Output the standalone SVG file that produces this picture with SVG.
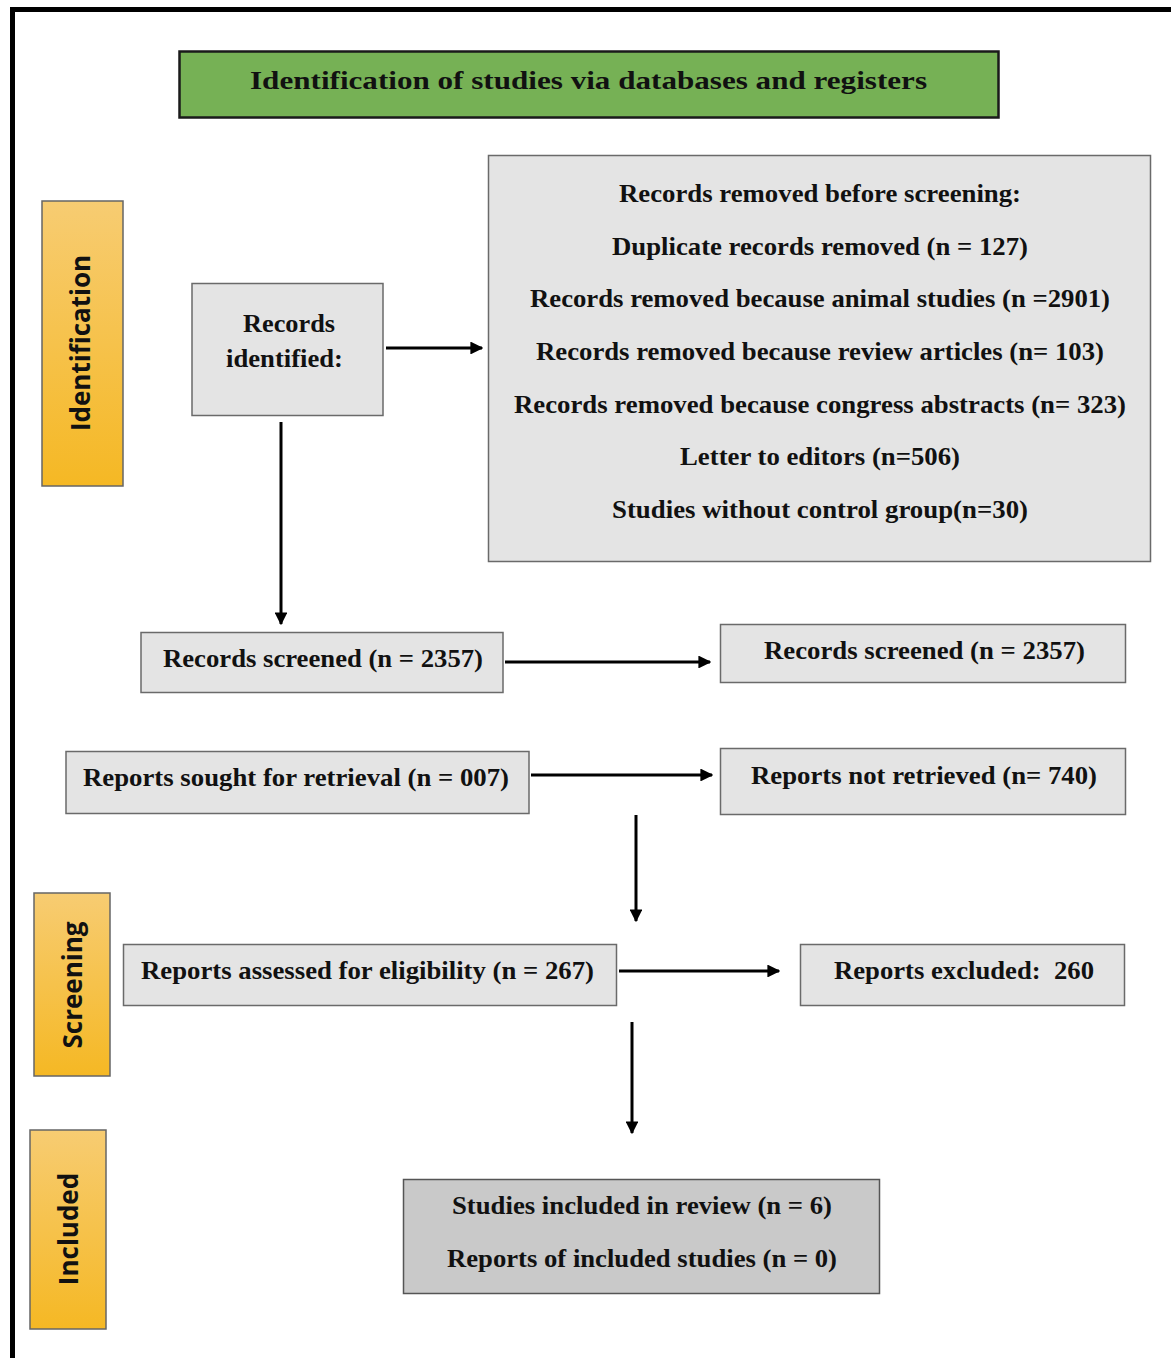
<svg xmlns="http://www.w3.org/2000/svg" width="1171" height="1358" viewBox="0 0 1171 1358">
<style>
.box{fill:#e4e4e4;stroke:#6a6a6a;stroke-width:1.5}
.dark{fill:#c9c9c9;stroke:#555;stroke-width:1.5}
.t{font-family:"Liberation Serif","Times New Roman",serif;font-weight:bold;font-size:26px;fill:#111;text-anchor:middle}
.side{font-family:"Open Sans","DejaVu Sans",sans-serif;font-weight:bold;font-size:26px;fill:#111;text-anchor:middle}
.lbl{stroke:#666;stroke-width:1.5;fill:url(#og)}
.c{stroke:#000;stroke-width:3;fill:none;marker-end:url(#ah)}
</style>
<defs>
<linearGradient id="og" x1="0" y1="0" x2="0" y2="1">
<stop offset="0" stop-color="#f7cc72"/>
<stop offset="1" stop-color="#f5b824"/>
</linearGradient>
<marker id="ah" viewBox="0 0 10 10" refX="9" refY="5" markerWidth="4.3" markerHeight="4.3" orient="auto" markerUnits="strokeWidth">
<path d="M0,0 L10,5 L0,10 Z" fill="#000"/>
</marker>
</defs>
<rect width="1171" height="1358" fill="#fff"/>
<path d="M12.5,1358 V9.5 H1171" fill="none" stroke="#000" stroke-width="5"/>

<g id="title">
<rect x="179.5" y="51.5" width="819" height="66" fill="#76b155" stroke="#1a1a1a" stroke-width="2.5"/>
<text class="t" x="588.5" y="89" font-size="28" textLength="677" lengthAdjust="spacingAndGlyphs">Identification of studies via databases and registers</text>
</g>

<g id="label-identification">
<rect class="lbl" x="42" y="201" width="81" height="285"/>
<text class="side" transform="translate(90,343) rotate(-90)">Identification</text>
</g>
<g id="label-screening">
<rect class="lbl" x="34" y="893" width="76" height="183"/>
<text class="side" transform="translate(82,985) rotate(-90)">Screening</text>
</g>
<g id="label-included">
<rect class="lbl" x="30" y="1130" width="76" height="199"/>
<text class="side" transform="translate(78,1229) rotate(-90)">Included</text>
</g>

<g id="records-identified">
<rect class="box" x="192" y="283.5" width="191" height="132"/>
<text class="t" x="289" y="332" textLength="92" lengthAdjust="spacingAndGlyphs">Records</text>
<text class="t" x="284.5" y="367" textLength="117" lengthAdjust="spacingAndGlyphs">identified:</text>
</g>

<g id="records-removed">
<rect class="box" x="488.5" y="155.5" width="662" height="406"/>
<text class="t" x="820" y="202" textLength="402" lengthAdjust="spacingAndGlyphs">Records removed before screening:</text>
<text class="t" x="820" y="255" textLength="416" lengthAdjust="spacingAndGlyphs">Duplicate records removed (n = 127)</text>
<text class="t" x="820" y="307" textLength="580" lengthAdjust="spacingAndGlyphs">Records removed because animal studies (n =2901)</text>
<text class="t" x="820" y="360" textLength="568" lengthAdjust="spacingAndGlyphs">Records removed because review articles (n= 103)</text>
<text class="t" x="820" y="413" textLength="612" lengthAdjust="spacingAndGlyphs">Records removed because congress abstracts (n= 323)</text>
<text class="t" x="820" y="465" textLength="280" lengthAdjust="spacingAndGlyphs">Letter to editors (n=506)</text>
<text class="t" x="820" y="518" textLength="416" lengthAdjust="spacingAndGlyphs">Studies without control group(n=30)</text>
</g>

<g id="records-screened">
<rect class="box" x="141" y="632.5" width="362" height="60"/>
<text class="t" x="323" y="667" textLength="320" lengthAdjust="spacingAndGlyphs">Records screened (n = 2357)</text>
</g>
<g id="records-screened-2">
<rect class="box" x="720.5" y="624.5" width="405" height="58"/>
<text class="t" x="924.5" y="659" textLength="321" lengthAdjust="spacingAndGlyphs">Records screened (n = 2357)</text>
</g>
<g id="reports-sought">
<rect class="box" x="66" y="751.5" width="463" height="62"/>
<text class="t" x="296" y="786" textLength="426" lengthAdjust="spacingAndGlyphs">Reports sought for retrieval (n = 007)</text>
</g>
<g id="reports-not-retrieved">
<rect class="box" x="720.5" y="748.5" width="405" height="66"/>
<text class="t" x="924" y="784" textLength="346" lengthAdjust="spacingAndGlyphs">Reports not retrieved (n= 740)</text>
</g>
<g id="reports-assessed">
<rect class="box" x="123.5" y="944.5" width="493" height="61"/>
<text class="t" x="367.5" y="979" textLength="453" lengthAdjust="spacingAndGlyphs">Reports assessed for eligibility (n = 267)</text>
</g>
<g id="reports-excluded">
<rect class="box" x="800.5" y="944.5" width="324" height="61"/>
<text class="t" x="964" y="979" textLength="260" lengthAdjust="spacingAndGlyphs" xml:space="preserve">Reports excluded:  260</text>
</g>
<g id="studies-included">
<rect class="dark" x="403.5" y="1179.5" width="476" height="114"/>
<text class="t" x="642" y="1214" textLength="380" lengthAdjust="spacingAndGlyphs">Studies included in review (n = 6)</text>
<text class="t" x="642" y="1267" textLength="390" lengthAdjust="spacingAndGlyphs">Reports of included studies (n = 0)</text>
</g>

<g id="connectors">
<line class="c" x1="386" y1="348" x2="482" y2="348"/>
<line class="c" x1="281" y1="422" x2="281" y2="624"/>
<line class="c" x1="505" y1="662" x2="710" y2="662"/>
<line class="c" x1="531" y1="775" x2="712" y2="775"/>
<line class="c" x1="636" y1="815" x2="636" y2="921"/>
<line class="c" x1="619" y1="971" x2="779" y2="971"/>
<line class="c" x1="632" y1="1022" x2="632" y2="1133"/>
</g>
</svg>
